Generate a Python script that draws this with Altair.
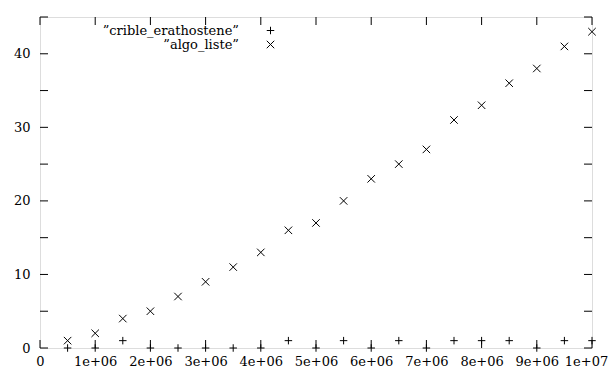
import altair as alt
import pandas as pd

# data
x_values = [500000, 1000000, 1500000, 2000000, 2500000, 3000000, 3500000, 4000000,
            4500000, 5000000, 5500000, 6000000, 6500000, 7000000, 7500000, 8000000,
            8500000, 9000000, 9500000, 10000000]
crible_erathostene = [0, 0, 1, 0, 0, 0, 0, 0, 1, 0, 1, 0, 1, 0, 1, 1, 1, 0, 1, 1]
algo_liste = [1, 2, 4, 5, 7, 9, 11, 13, 16, 17, 20, 23, 25, 27, 31, 33, 36, 38, 41, 43]
series_keys = ["crible_erathostene", "algo_liste"]
series_labels = ["\u201dcrible_erathostene\u201d", "\u201dalgo_liste\u201d"]
x_ticks = [0, 1000000, 2000000, 3000000, 4000000, 5000000, 6000000, 7000000,
           8000000, 9000000, 10000000]
y_ticks = [0, 5, 10, 15, 20, 25, 30, 35, 40, 45]

rows = []
for xv, c, a in zip(x_values, crible_erathostene, algo_liste):
    rows.append({"x": xv, "y": c, "series": series_keys[0], "label": series_labels[0]})
    rows.append({"x": xv, "y": a, "series": series_keys[1], "label": series_labels[1]})
df = pd.DataFrame(rows)
xt = pd.DataFrame({"x": x_ticks})
yt = pd.DataFrame({"y": y_ticks})

FONT = "DejaVu Serif"
FS = 13
PLUS = "M-1,0L1,0M0,-1L0,1"
CROSS = "M-1,-1L1,1M-1,1L1,-1"

xscale = alt.Scale(domain=[0, 10000000], nice=False, zero=False)
yscale = alt.Scale(domain=[0, 45], nice=False, zero=False)

points = alt.Chart(df).mark_point(filled=False, strokeWidth=1, size=56, opacity=1).encode(
    x=alt.X("x:Q", scale=xscale,
            axis=alt.Axis(values=x_ticks, title=None, grid=False, domain=False, ticks=False,
                          labelPadding=7, labelFontSize=FS, labelFont=FONT, labelColor="black",
                          labelOverlap=False, labelFlush=False,
                          labelOffset=alt.condition("datum.value == 10000000", alt.value(-6), alt.value(0)),
                          labelExpr="datum.value == 0 ? '0' : replace(format(datum.value, '.0e'), 'e+', 'e+0')")),
    y=alt.Y("y:Q", scale=yscale,
            axis=alt.Axis(values=y_ticks, title=None, grid=False, domain=False, ticks=False,
                          labelOverlap=False, labelFlush=False,
                          labelPadding=10, labelFontSize=FS, labelFont=FONT, labelColor="black")),
    shape=alt.Shape("series:N",
                    scale=alt.Scale(domain=series_keys, range=[PLUS, CROSS]),
                    legend=alt.Legend(orient="none", legendX=224, legendY=7, title=None,
                                      labelExpr="''", labelFontSize=FS,
                                      symbolSize=56, symbolStrokeWidth=1, symbolStrokeColor="black",
                                      rowPadding=-2, padding=0)),
    color=alt.Color("label:N",
                    scale=alt.Scale(domain=series_labels, range=["black", "black"]),
                    legend=alt.Legend(orient="none", legendX=186, legendY=7, title=None,
                                      labelFont=FONT, labelFontSize=FS, labelColor="black",
                                      labelAlign="right", labelOffset=0, symbolOpacity=0,
                                      symbolSize=56, symbolType="circle",
                                      rowPadding=-2, padding=0)),
)

bottom_ticks = alt.Chart(xt).mark_tick(orient="vertical", size=8, thickness=1, color="black", yOffset=-4, opacity=1).encode(
    x=alt.X("x:Q", scale=xscale), y=alt.YDatum(0, scale=yscale))
top_ticks = alt.Chart(xt).mark_tick(orient="vertical", size=8, thickness=1, color="black", yOffset=4, opacity=1).encode(
    x=alt.X("x:Q", scale=xscale), y=alt.YDatum(45, scale=yscale))
left_ticks = alt.Chart(yt).mark_tick(orient="horizontal", size=8, thickness=1, color="black", xOffset=4, opacity=1).encode(
    y=alt.Y("y:Q", scale=yscale), x=alt.XDatum(0, scale=xscale))
right_ticks = alt.Chart(yt).mark_tick(orient="horizontal", size=8, thickness=1, color="black", xOffset=-4, opacity=1).encode(
    y=alt.Y("y:Q", scale=yscale), x=alt.XDatum(10000000, scale=xscale))

chart = alt.layer(points, bottom_ticks, top_ticks, left_ticks, right_ticks).properties(
    width=552, height=331,
    autosize=alt.AutoSizeParams(type="none"),
    padding={"left": 32, "top": 9, "right": 16, "bottom": 20},
).configure_view(stroke="black", strokeWidth=1).configure(background="white")

chart.save("out.html", embed_options={"renderer": "svg", "actions": False})
